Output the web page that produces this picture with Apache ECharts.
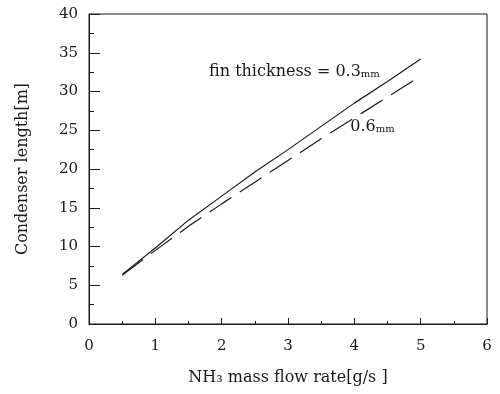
<!DOCTYPE html>
<html><head><meta charset="utf-8">
<script src="https://cdn.jsdelivr.net/npm/echarts@6/dist/echarts.min.js"></script>
<style>html,body{margin:0;padding:0;background:#fff}#c{width:500px;height:394px}</style>
</head><body><div id="c"></div>
<script>
const flowRate = [0.5, 1, 1.5, 2, 2.5, 3, 3.5, 4, 4.5, 5];
const length03 = [6.4, 9.8, 13.4, 16.5, 19.6, 22.5, 25.5, 28.5, 31.3, 34.2];
const length06 = [6.3, 9.5, 12.6, 15.5, 18.3, 21.1, 23.9, 26.6, 29.3, 32.0];
const xTicks = [0, 1, 2, 3, 4, 5, 6];
const yTicks = [0, 5, 10, 15, 20, 25, 30, 35, 40];
const label03 = 'fin thickness = 0.3';
const label06 = '0.6';

const font = "'DejaVu Serif','Liberation Serif',serif";
const ink = '#1a1a1a';
const chart = echarts.init(document.getElementById('c'));
const pair = (xs, ys) => xs.map((x, i) => [x, ys[i]]);
const richS = { s: { fontFamily: font, fontSize: 10, color: ink, verticalAlign: 'bottom', padding: [0, 0, 1, 0] } };

chart.setOption({
  animation: false,
  grid: { left: 89, right: 13, top: 14, bottom: 70, show: true, borderColor: ink, borderWidth: 1, backgroundColor: 'transparent' },
  xAxis: {
    type: 'value', min: xTicks[0], max: xTicks[xTicks.length - 1], interval: 1,
    name: 'NH\u2083 mass flow rate[g/s ]', nameLocation: 'middle', nameGap: 46,
    nameTextStyle: { fontFamily: font, fontSize: 16, color: ink },
    axisLine: { lineStyle: { color: ink, width: 1 } },
    axisTick: { inside: true, length: 6, lineStyle: { color: ink } },
    minorTick: { show: true, splitNumber: 2, length: 3, lineStyle: { color: ink } },
    axisLabel: { fontFamily: font, fontSize: 15, color: ink, margin: 15 },
    splitLine: { show: false }
  },
  yAxis: {
    type: 'value', min: yTicks[0], max: yTicks[yTicks.length - 1], interval: 5,
    name: 'Condenser length[m]', nameLocation: 'middle', nameGap: 58, nameRotate: 90,
    nameTextStyle: { fontFamily: font, fontSize: 16, color: ink },
    axisLine: { lineStyle: { color: ink, width: 1 } },
    axisTick: { inside: true, length: 11, lineStyle: { color: ink } },
    minorTick: { show: true, splitNumber: 2, length: 5, lineStyle: { color: ink } },
    axisLabel: { fontFamily: font, fontSize: 15, color: ink, margin: 11 },
    splitLine: { show: false }
  },
  series: [
    {
      type: 'line', data: pair(flowRate, length03), symbol: 'none', smooth: false,
      lineStyle: { color: ink, width: 1.2, type: 'solid' },
      markPoint: {
        symbol: 'circle', symbolSize: 0,
        data: [{ coord: [1.81, 32.5] }],
        label: { show: true, position: 'right', distance: 0, formatter: label03 + '{s|mm}',
          fontFamily: font, fontSize: 16, color: ink, rich: richS }
      }
    },
    {
      type: 'line', data: pair(flowRate, length06), symbol: 'none', smooth: false,
      lineStyle: { color: ink, width: 1.2, type: [26, 10] },
      markPoint: {
        symbol: 'circle', symbolSize: 0,
        data: [{ coord: [3.94, 25.4] }],
        label: { show: true, position: 'right', distance: 0, formatter: label06 + '{s|mm}',
          fontFamily: font, fontSize: 16, color: ink, rich: richS }
      }
    }
  ]
});
</script>
</body></html>
